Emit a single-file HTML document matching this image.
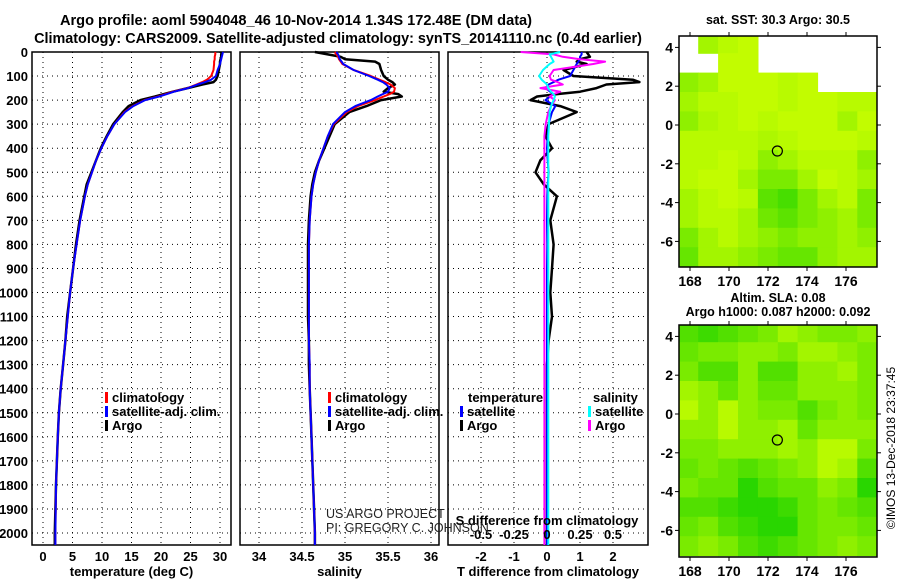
<!DOCTYPE html>
<html><head><meta charset="utf-8"><style>
body{margin:0;background:#fff;width:900px;height:580px;overflow:hidden}
svg{display:block;font-family:"Liberation Sans",sans-serif}
.t{font-weight:bold;font-size:13px}
.m{font-weight:bold;font-size:14px}
</style></head><body>
<svg id="s" width="900" height="580">
<text x="296" y="25" text-anchor="middle" font-size="14.6" font-weight="bold">Argo profile: aoml 5904048_46 10-Nov-2014 1.34S 172.48E (DM data)</text>
<text x="338" y="43" text-anchor="middle" font-size="14.4" font-weight="bold">Climatology: CARS2009. Satellite-adjusted climatology: synTS_20141110.nc (0.4d earlier)</text>
<text x="778" y="24" text-anchor="middle" font-size="12.5" font-weight="bold">sat. SST: 30.3 Argo: 30.5</text>
<text x="778" y="302" text-anchor="middle" font-size="12.5" font-weight="bold">Altim. SLA: 0.08</text>
<text x="778" y="316" text-anchor="middle" font-size="12.5" font-weight="bold">Argo h1000: 0.087 h2000: 0.092</text>
<text transform="translate(895,448) rotate(-90)" text-anchor="middle" font-size="12">©IMOS 13-Dec-2018 23:37:45</text>
</svg>
<script>
const depths=[0,10,20,30,40,50,75,100,115,125,135,150,165,175,185,200,225,250,300,350,400,450,500,550,600,700,800,900,1000,1100,1200,1300,1400,1500,1600,1800,2000,2050];
const tempArgo=[30.3,30.2,30.2,30.1,30.0,30.0,29.8,29.6,29.3,28.9,27.0,24.5,22,20.5,19,16.5,14.5,13.5,11.9,10.8,9.8,9.0,8.2,7.4,7.0,6.2,5.6,5.1,4.6,4.1,3.8,3.4,3.0,2.7,2.5,2.2,2.0,2.0];
const tempClim=[29.2,29.2,29.1,29.1,29.0,29.0,28.9,28.5,27.8,27.0,26.0,24.5,22.0,20.8,19.5,17.2,15.2,13.8,12.1,10.9,9.9,9.0,8.3,7.6,7.1,6.3,5.7,5.1,4.6,4.2,3.8,3.4,3.0,2.7,2.5,2.2,2.1,2.1];
const tempSat=[30.5,30.4,30.3,30.2,30.1,30.0,29.6,29.3,28.5,27.5,26.2,24.6,22.2,21.0,19.7,17.3,15.3,13.9,12.1,10.9,9.9,9.0,8.3,7.6,7.1,6.3,5.7,5.1,4.6,4.2,3.8,3.4,3.0,2.7,2.5,2.2,2.1,2.1];
const salArgo=[34.65,34.8,34.95,35.0,35.35,35.4,35.42,35.45,35.5,35.55,35.58,35.5,35.45,35.62,35.66,35.42,35.25,35.05,34.88,34.82,34.76,34.7,34.65,34.62,34.6,34.58,34.57,34.57,34.57,34.57,34.58,34.58,34.59,34.6,34.61,34.63,34.65,34.65];
const salClim=[34.88,34.9,34.92,34.93,34.95,34.97,35.1,35.3,35.4,35.47,35.53,35.58,35.57,35.52,35.45,35.35,35.15,35.02,34.87,34.8,34.75,34.7,34.66,34.63,34.61,34.59,34.58,34.58,34.58,34.58,34.58,34.59,34.59,34.6,34.61,34.63,34.65,34.65];
const salSat=[34.9,34.92,34.93,34.94,34.96,34.98,35.1,35.28,35.38,35.44,35.48,35.52,35.5,35.44,35.38,35.3,35.12,35.0,34.86,34.8,34.75,34.7,34.66,34.63,34.61,34.59,34.58,34.58,34.58,34.58,34.58,34.59,34.59,34.6,34.61,34.63,34.65,34.65];
const dTArgo=[1.2,1.25,1.3,1.0,0.9,1.2,0.5,0.8,2.6,2.8,1.8,1.5,1.0,0.3,-0.3,-0.5,0.4,0.9,0.05,-0.05,0.15,-0.2,-0.35,-0.1,0.3,0.1,0.2,0.15,0.1,0.15,0.05,0,0,0,0,0,0,0];
const dTSat=[1.05,1.05,1.0,1.0,0.95,0.9,0.8,0.7,0.35,0.2,0.05,-0.05,0.1,0.2,0.1,-0.05,0.25,0.15,0.05,0.02,0,0.02,0.05,0.02,0.01,0,0.01,0,0,0,0,0,0,0,0,0,0,0];
const dSArgo=[-0.2,0.05,0.12,0.25,0.44,0.35,0.05,0.02,0.03,0.08,0.12,-0.05,0.1,0.05,0.02,0.06,0.03,0.01,-0.01,-0.02,-0.02,-0.02,-0.02,-0.02,-0.02,-0.02,-0.02,-0.02,-0.02,-0.02,-0.02,-0.02,-0.02,-0.02,-0.02,-0.02,-0.02,-0.02];
const dSSat=[0.1,0.02,0.03,0.04,0.05,0.02,-0.03,-0.06,-0.04,-0.02,0,0.01,0.03,0.05,0.06,0.05,0.03,0.02,0.015,0.01,0.01,0.01,0.01,0.01,0.01,0.01,0.01,0.01,0.01,0.01,0.01,0.01,0.01,0.01,0.01,0.01,0.01,0.01];
const depthTicks=[0,100,200,300,400,500,600,700,800,900,1000,1100,1200,1300,1400,1500,1600,1700,1800,1900,2000];
const tTicks=[0,5,10,15,20,25,30];
const sTicks=[34,34.5,35,35.5,36];
const dtTicks=[-2,-1,0,1,2];
const dsTicks=[-0.5,-0.25,0,0.25,0.5];
const lonTicks=[168,170,172,174,176];
const latTicks=[4,2,0,-2,-4,-6];
const sstGrid=[
[-1,0.2,0.1,0.05,-1,-1,-1,-1,-1,-1],
[-1,-1,0.05,0.05,-1,-1,-1,-1,-1,-1],
[0.3,0.2,0.05,0.05,0.05,0.1,0.05,-1,-1,-1],
[0.2,0.1,0.1,0.05,0.05,0.1,0.05,0.05,0.1,0.1],
[0.3,0.15,0.1,0.05,0.1,0.05,0.05,0.05,0.2,0.05],
[0.1,0.1,0.1,0.1,0.15,0.1,0.05,0.05,0.05,0.1],
[0.1,0.1,0.05,0.1,0.3,0.2,0.1,0.1,0.1,0.3],
[0.1,0.05,0.05,0.2,0.4,0.4,0.2,0.05,0.1,0.2],
[0.2,0.1,0.05,0.1,0.55,0.65,0.4,0.2,0.1,0.4],
[0.2,0.1,0.1,0.2,0.45,0.55,0.4,0.3,0.2,0.4],
[0.4,0.2,0.1,0.2,0.3,0.4,0.3,0.3,0.2,0.3],
[0.5,0.2,0.2,0.3,0.4,0.5,0.5,0.3,0.2,0.2]];
const slaGrid=[
[0.6,0.7,0.6,0.5,0.4,0.2,0.3,0.4,0.4,0.3],
[0.5,0.4,0.4,0.3,0.3,0.4,0.2,0.2,0.3,0.4],
[0.4,0.6,0.6,0.3,0.6,0.6,0.3,0.3,0.2,0.4],
[0.2,0.3,0.5,0.3,0.5,0.5,0.3,0.3,0.3,0.4],
[0.1,0.3,0.1,0.3,0.4,0.4,0.6,0.4,0.3,0.4],
[0.3,0.3,0.1,0.3,0.3,0.2,0.5,0.3,0.3,0.3],
[0.4,0.4,0.3,0.3,0.3,0.2,0.3,0.1,0.1,0.4],
[0.5,0.4,0.5,0.6,0.5,0.4,0.3,0.1,0.2,0.6],
[0.4,0.5,0.5,0.8,0.6,0.5,0.5,0.3,0.4,0.8],
[0.6,0.6,0.7,0.8,0.8,0.7,0.5,0.4,0.5,0.6],
[0.5,0.4,0.6,0.7,0.8,0.8,0.5,0.4,0.4,0.5],
[0.4,0.3,0.4,0.6,0.7,0.6,0.5,0.4,0.3,0.4]];
const floatLon=172.48, floatLat=-1.34;

const NS='http://www.w3.org/2000/svg';
const svg=document.getElementById('s');
function mk(tag,attrs,parent){const e=document.createElementNS(NS,tag);for(const k in attrs)e.setAttribute(k,attrs[k]);(parent||svg).appendChild(e);return e;}
const Y0=52,YS=0.2405;
const yD=d=>Y0+d*YS;
const PB=545;
const panels=[
 {x0:32,x1:231,sx:v=>43+v*5.9,ticks:tTicks,title:'temperature (deg C)',name:'temperature'},
 {x0:240,x1:439,sx:v=>302+(v-34.5)*86,ticks:sTicks,title:'salinity',name:'salinity'},
 {x0:448,x1:648,sx:v=>547+v*33,ticks:dtTicks,title:'T difference from climatology',name:'difference'}];
const sxS=v=>547+v*132;
panels.forEach((p,i)=>{
  const g=mk('g',{});
  
  
  depthTicks.forEach(d=>{
    const l=mk('line',{x1:p.x0,x2:p.x1,y1:yD(d),y2:yD(d),stroke:'#000','stroke-dasharray':'1 4','stroke-width':1},g);
    
    
  });
  p.ticks.forEach(v=>{
    const x=p.sx(v);
    const l=mk('line',{x1:x,x2:x,y1:Y0,y2:PB,stroke:'#000','stroke-dasharray':'1 4','stroke-width':1},g);
    
    
    const t=mk('text',{x:x,y:561,'text-anchor':'middle',class:'t'},g);t.textContent=String(v);
    
    
  });
  const tt=mk('text',{x:(p.x0+p.x1)/2,y:576,'text-anchor':'middle',class:'t'},g);tt.textContent=p.title;
  
  
  const r=mk('rect',{x:p.x0,y:Y0,width:p.x1-p.x0,height:PB-Y0,fill:'none',stroke:'#000','stroke-width':1.5},g);
  
  
});
depthTicks.forEach(d=>{
  const t=mk('text',{x:28,y:yD(d)+5,'text-anchor':'end',class:'t'});t.textContent=String(d);
  
  
});
function line(vals,sx,color,w,name){
  const pts=vals.map((v,i)=>sx(v).toFixed(1)+','+yD(depths[i]).toFixed(1)).join(' ');
  const e=mk('polyline',{points:pts,fill:'none',stroke:color,'stroke-width':w,'stroke-linejoin':'round'});
  
  
}
const p0=panels[0].sx,p1=panels[1].sx,p2=panels[2].sx;
line(tempArgo,p0,'#000',2.5,'temp-argo-line');
line(tempClim,p0,'#f00',2,'temp-climatology-line');
line(tempSat,p0,'#00f',2,'temp-satellite-line');
line(salArgo,p1,'#000',2.5,'sal-argo-line');
line(salClim,p1,'#f00',2,'sal-climatology-line');
line(salSat,p1,'#00f',2,'sal-satellite-line');
line(dTArgo,p2,'#000',2.5,'tdiff-argo-line');
line(dTSat,p2,'#00f',2,'tdiff-satellite-line');
line(dSArgo,sxS,'#f0f',2,'sdiff-argo-line');
line(dSSat,sxS,'#0ff',2,'sdiff-satellite-line');
dsTicks.forEach(v=>{
  const t=mk('text',{x:sxS(v),y:539,'text-anchor':'middle',class:'t'});t.textContent=String(v);
  
  
});
const st=mk('text',{x:547,y:525,'text-anchor':'middle',class:'t'});st.textContent='S difference from climatology';


function leg(x,y,color,label,name){
  const r=mk('rect',{x:x,y:y-10,width:3,height:11,fill:color});
  
  
  if(label){const t=mk('text',{x:x+7,y:y,class:'t','font-size':'12'});t.textContent=label;
  
  }
}
[[105,'#f00','climatology'],[105,'#00f','satellite-adj. clim.'],[105,'#000','Argo']].forEach((a,i)=>leg(a[0],402+i*14,a[1],a[2],'legend-temp-'+i));
[[328,'#f00','climatology'],[328,'#00f','satellite-adj. clim.'],[328,'#000','Argo']].forEach((a,i)=>leg(a[0],402+i*14,a[1],a[2],'legend-sal-'+i));
let lt=mk('text',{x:468,y:402,class:'t','font-size':'12'});lt.textContent='temperature';


lt=mk('text',{x:593,y:402,class:'t','font-size':'12'});lt.textContent='salinity';


leg(460,416,'#00f','satellite','legend-dt-sat');
leg(460,430,'#000','Argo','legend-dt-argo');
leg(588,416,'#0ff','satellite','legend-ds-sat');
leg(588,430,'#f0f','Argo','legend-ds-argo');
[['US ARGO PROJECT',518],['PI: GREGORY C. JOHNSON',532]].forEach((a,i)=>{
  const t=mk('text',{x:326,y:a[1],'font-size':'12.5',fill:'#222'});t.textContent=a[0];
  
  
});
function col(v){const r=Math.round(204*(1-v)),g=Math.round(255-51*v);return 'rgb('+r+','+g+',0)';}
function drawMap(grid,top,bottom,lat0y,name){
  const X0=679,X1=877,lx=v=>690+(v-168)*19.5,ly=v=>lat0y-v*19.4;
  const g=mk('g',{});
  
  
  const cp=mk('clipPath',{id:'c'+name},g);mk('rect',{x:X0,y:top,width:X1-X0,height:bottom-top},cp);
  const cg=mk('g',{'clip-path':'url(#c'+name+')'},g);
  grid.forEach((row,r)=>row.forEach((v,c)=>{
    if(v<0)return;
    const lon=167.4+c*1.02,lat=4.7-r*1.0;
    const cell=mk('rect',{x:lx(lon).toFixed(1),y:ly(lat).toFixed(1),width:20.5,height:20,fill:col(v)},cg);
    
    
  }));
  lonTicks.forEach(v=>{
    mk('line',{x1:lx(v),x2:lx(v),y1:top-4,y2:top,stroke:'#000'},g);
    mk('line',{x1:lx(v),x2:lx(v),y1:bottom,y2:bottom+4,stroke:'#000'},g);
    const t=mk('text',{x:lx(v),y:bottom+19,'text-anchor':'middle',class:'m'},g);t.textContent=String(v);
    
    
  });
  latTicks.forEach(v=>{
    mk('line',{x1:X0-4,x2:X0,y1:ly(v),y2:ly(v),stroke:'#000'},g);
    mk('line',{x1:X1,x2:X1+4,y1:ly(v),y2:ly(v),stroke:'#000'},g);
    const t=mk('text',{x:673,y:ly(v)+5,'text-anchor':'end',class:'m'},g);t.textContent=String(v);
    
    
  });
  const c=mk('circle',{cx:lx(floatLon),cy:ly(floatLat),r:5,fill:'none',stroke:'#000','stroke-width':1.2},g);
  
  
  const f=mk('rect',{x:X0,y:top,width:X1-X0,height:bottom-top,fill:'none',stroke:'#000','stroke-width':1.5},g);
  
  
}
drawMap(sstGrid,36,267,125,'sst-map');
drawMap(slaGrid,325,557,414,'sla-map');
</script>
</body></html>
